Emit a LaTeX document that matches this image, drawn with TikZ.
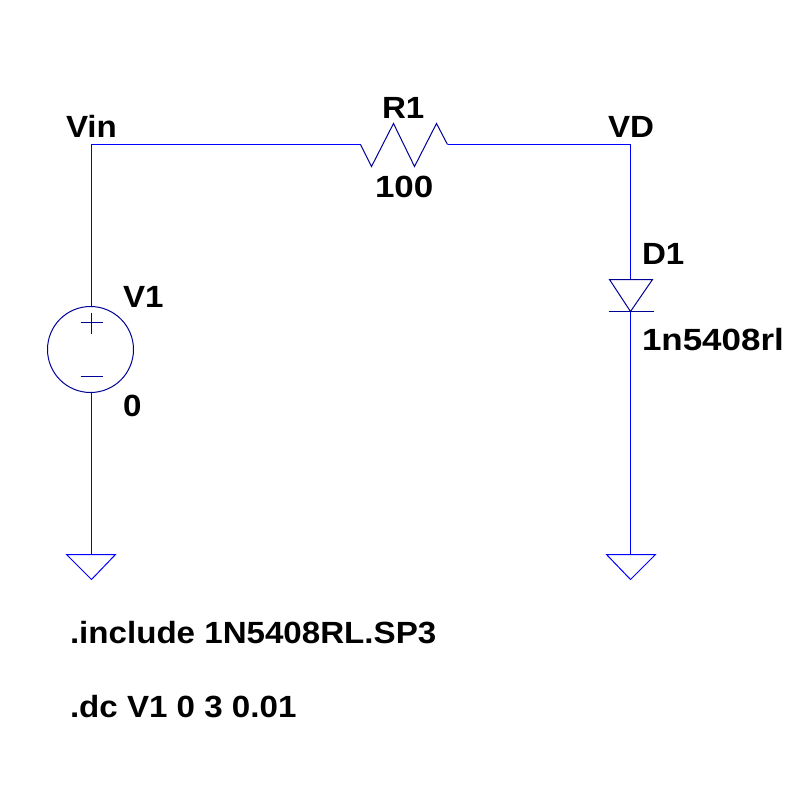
\documentclass[tikz,border=0pt]{standalone}
\usepackage{fontspec}
\setmainfont[FakeStretch=1.08]{Liberation Sans}
\newfontfamily\digitfont[FakeStretch=1.14]{Liberation Sans}
\definecolor{wireblue}{RGB}{0,0,255}
\definecolor{symblue}{RGB}{0,0,150}
\begin{document}
\begin{tikzpicture}[x=0.75pt,y=-0.75pt,line width=0.75pt]
        \tikzstyle{label}=[anchor=base west,inner sep=0pt,font=\fontsize{23}{26}\selectfont\bfseries]
        \tikzstyle{wire}=[draw=wireblue]
        \tikzstyle{symbol}=[draw=symblue]
        \tikzstyle{source}=[circle,symbol,inner sep=0pt,minimum size=64.5pt]
        \useasboundingbox (-0.5,-0.5) rectangle (799.5,799.5);
        % wire corners and pins
        \coordinate (c1) at (91,144);
        \coordinate (c2) at (630,144);
        \coordinate (r1a) at (360,144);
        \coordinate (r1b) at (447,144);
        \coordinate (d1a) at (630,279);
        \coordinate (d1k) at (630,311);
        \coordinate (g1) at (91,554);
        \coordinate (g2) at (630,554);
        \node [source] (v1) at (90,349) {};
        % wires
        \path[wire] (v1.north -| c1) -- (c1) -- (r1a);
        \path[wire] (r1b) -- (c2) -- (d1a);
        \path[wire] (d1k) -- (g2);
        \path[wire] (v1.south -| g1) -- (g1);
        % V1 signs
        \path[symbol] (80,322) -- (102,322) (91,312) -- (91,333);
        \path[symbol] (80,376) -- (102,376);
        % R1
        \path[symbol] (r1a) -- (371,166) -- (393,123) -- (414,166) -- (436,123) -- (r1b);
        % D1
        \path[symbol] (d1a) -- (609,279) -- (d1k) -- (652,279) -- cycle;
        \path[symbol] (608,311) -- (653,311);
        % grounds
        \path[wire] (g1) -- (66,554) -- (91,579) -- (115,554) -- cycle;
        \path[wire] (g2) -- (606,554) -- (630,579) -- (655,554) -- cycle;
        % labels
        \node [label] (vin) at (65,137) {Vin};
        \node [label] (vd) at (607,137) {VD};
        \node [label] (r1name) at (381,118) {R1};
        \node [label] (r1val) at (374,197) {\digitfont\bfseries 100};
        \node [label] (d1name) at (641,264) {D1};
        \node [label] (d1val) at (641,350) {\digitfont\bfseries 1n5408rl};
        \node [label] (v1name) at (122,307) {V1};
        \node [label] (v1val) at (122,416) {0};
        \node [label] (inc) at (69,643) {.include 1N5408RL.SP3};
        \node [label] (dc) at (69,717) {.dc V1 0 3 0.01};
\end{tikzpicture}
\end{document}
